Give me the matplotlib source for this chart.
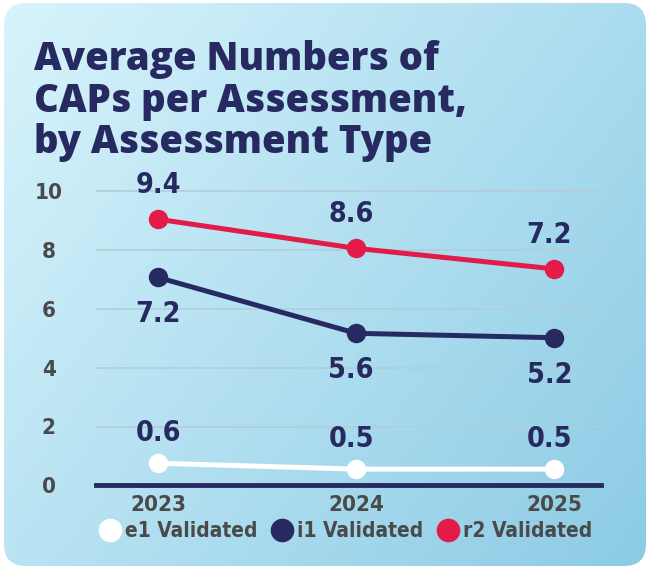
import numpy as np
import matplotlib.pyplot as plt
from matplotlib.patches import FancyBboxPatch
from matplotlib.lines import Line2D

years = ["2023", "2024", "2025"]
series_names = ["e1 Validated", "i1 Validated", "r2 Validated"]
# plotted positions as drawn in the source graphic
e1_vals = [0.75, 0.55, 0.55]
i1_vals = [7.07, 5.17, 5.02]
r2_vals = [9.05, 8.06, 7.36]
# value labels printed next to the points
e1_labels = ["0.6", "0.5", "0.5"]
i1_labels = ["7.2", "5.6", "5.2"]
r2_labels = ["9.4", "8.6", "7.2"]
yticks = [0, 2, 4, 6, 8, 10]

navy = "#262a60"
red = "#e31b48"
gray = "#4a4a4a"
cond = dict(family="DejaVu Sans", fontstretch="condensed", fontweight="bold")

W, H = 649, 569
fig = plt.figure(figsize=(W / 100, H / 100), dpi=100)
fig.patch.set_facecolor("white")

# card background with diagonal gradient
bg = fig.add_axes([0, 0, 1, 1])
bg.set_xlim(0, W)
bg.set_ylim(H, 0)
bg.axis("off")
gx, gy = np.meshgrid(np.linspace(0, 1, 200), np.linspace(0, 1, 200))
g = (gx * 0.6 + gy * 0.4)
c0 = np.array([0xd8, 0xf4, 0xfc]) / 255
c1 = np.array([0x8c, 0xcb, 0xe5]) / 255
img = c0 + (c1 - c0) * g[..., None]
im = bg.imshow(img, extent=(4, 646, 566, 3), aspect="auto", interpolation="bilinear")
card = FancyBboxPatch((4, 3), 642, 563, boxstyle="round,pad=0,rounding_size=22",
                      transform=bg.transData, facecolor="none", edgecolor="none")
bg.add_patch(card)
im.set_clip_path(card)

fig.text(34 / W, 1 - 40 / H, "Average Numbers of\nCAPs per Assessment,\nby Assessment Type",
         family="Open Sans", fontweight=800, fontsize=27.5, color=navy,
         ha="left", va="top", linespacing=1.09)

ax = fig.add_axes([96 / W, (H - 485.3) / H, (600.7 - 96) / W, 10.5 * 29.4 / H])
ax.patch.set_alpha(0)
x = np.arange(len(years))
ax.set_xlim(-0.313, 2.234)
ax.set_ylim(0, 10.5)

for sp in ["top", "right", "left"]:
    ax.spines[sp].set_visible(False)
ax.spines["bottom"].set_color(navy)
ax.spines["bottom"].set_linewidth(3.5)
ax.spines["bottom"].set_zorder(5)

ax.set_yticks(yticks)
ax.yaxis.grid(True, color="#b3cdd8", linewidth=1.2)
ax.set_axisbelow(True)
ax.tick_params(axis="y", length=0, pad=34, labelcolor=gray, labelsize=16)
for lab in ax.get_yticklabels():
    lab.set_ha("center")
    lab.set_fontstretch("condensed")
    lab.set_fontweight("bold")
ax.set_xticks(x, years)
ax.tick_params(axis="x", length=0, pad=7, labelcolor=gray, labelsize=16)
for lab in ax.get_xticklabels():
    lab.set_fontstretch("condensed")
    lab.set_fontweight("bold")

series = [
    (e1_vals, e1_labels, "white", 30),
    (i1_vals, i1_labels, navy, -37),
    (r2_vals, r2_labels, red, 34),
]
for vals, labels, col, off in series:
    ax.plot(x, vals, color=col, linewidth=3.6, marker="o", markersize=13, zorder=3,
            solid_capstyle="round")
    for xi, v, t in zip(x, vals, labels):
        ax.annotate(t, (xi, v), xytext=(-5 if xi > 0 else 0, off), textcoords="offset pixels",
                    ha="center", va="center", color=navy, fontsize=20.5, **cond)

handles = [Line2D([], [], linestyle="none", marker="o", markersize=16,
                  markerfacecolor=c, markeredgecolor=c) for c in ["white", navy, red]]
fig.legend(handles, series_names, loc="center", bbox_to_anchor=(345 / W, 1 - 531 / H),
           ncol=3, frameon=False, handletextpad=0.1, columnspacing=0.6,
           prop=dict(family="DejaVu Sans", stretch="condensed", weight="bold", size=15),
           labelcolor=gray, handlelength=1.2)

fig.savefig("out.png", dpi=100)
